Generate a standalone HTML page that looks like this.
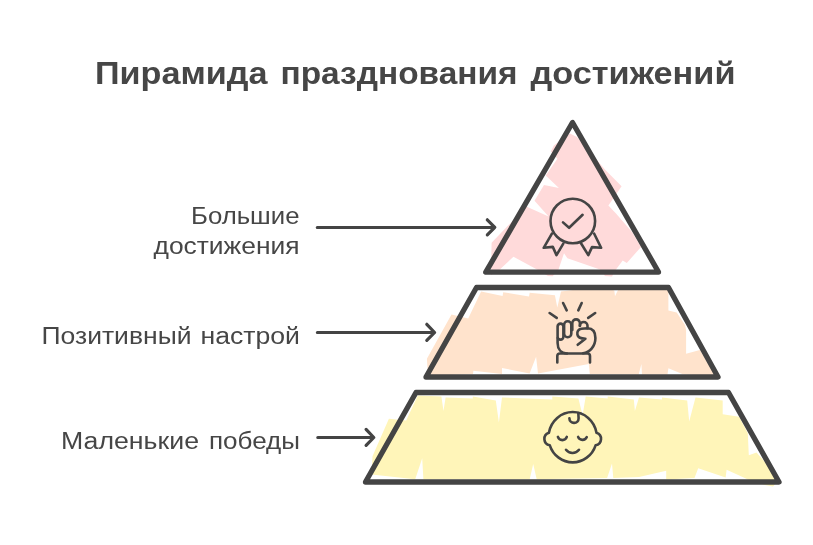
<!DOCTYPE html>
<html><head><meta charset="utf-8">
<style>
html,body{margin:0;padding:0;background:#fff;width:813px;height:545px;overflow:hidden}
svg{display:block;will-change:transform}
text{font-family:"Liberation Sans",sans-serif;fill:#464646}
.t{font-size:31px;font-weight:bold}
.l{font-size:23px}
</style></head><body>
<svg width="813" height="545" viewBox="0 0 813 545">
<g id="fills">
<polygon fill="#ffdada" points="569.9,133.5 577,137 605.4,170 621.6,186.2 608.4,205.4 616,213.5 632,232 641,247 626.8,263 622.7,260.4 615.2,270.5 612,276.5 605,276 600,269.6 567.4,258.3 564,253.2 558.5,269.6 552.6,276.3 548,276 537,269.5 513.5,256.7 499.8,269.5 491,275 491.6,242.8 526.3,206.5 548.6,216.4 534.5,200.7 544,185 558.9,188.1 545.7,175.6 557.4,158.8 550.8,151.4 553.8,145.6"/>
<polygon fill="#ffe3cc" points="481.1,291.6 502.6,295.9 503.2,292.2 529,296.5 529.7,292.8 554.9,295.3 557.3,307.6 561,291.5 589,288 604,288 614.3,290.4 615,296.3 619,288 668.4,289 668.4,310.5 676.7,312.4 685,325 686.1,330 686.1,353.8 699.9,349.9 714.7,374.5 718,377 682.3,374 668.4,368.3 667.5,374.5 642,374.5 641.4,364 638.7,374.5 589.8,374 588.8,364 538,373.5 536.1,356.8 529.6,373.5 502,368 502,374 473.4,370.7 473,374 428,376 426.9,358.7 451.5,314.4 468.2,318.4"/>
<polygon fill="#fff5b9" points="417.8,395.6 441.4,396.4 443.5,411 445.6,397.4 472.8,398.5 472.8,396.5 495.8,400.6 498.9,422.5 502,397.4 552.3,399.5 552.3,396.4 578.4,398.5 582.6,415.2 585.7,396.4 607.7,398.5 607.7,396.4 633.8,399.5 634.9,411 639,397.4 662,399.5 662,397.4 687.2,400.6 689.2,421.5 695.5,397.4 722.7,400.6 722.7,414.2 739.1,416.8 747.8,433.2 748.8,455.3 756.5,452.4 775.7,474.3 778,481 773,486.5 765,485 748,479.5 726.6,469.8 725.6,477.5 698.2,468.3 694.5,478.1 666.2,479.4 666.2,470.8 639.1,477 613.3,478.1 612,463.4 607.1,478.1 536.7,479.2 533.2,464 529.7,479.2 423.4,479.2 422.2,458.2 415.2,479.2 371.6,474.6 372.5,456.3 388.9,418.7 406.2,420.6"/>
</g>
<g fill="none" stroke="#444" stroke-width="5.3" stroke-linejoin="round" stroke-linecap="round">
<path d="M572.5,122.5 L485.8,272.2 L658.5,272 Z"/>
<path d="M476.5,287.5 L668.5,287.5 L718,377 L426,377 Z"/>
<path d="M416,392.5 L728.5,392.5 L779,482 L365.5,482 Z"/>
</g>
<g fill="none" stroke="#444" stroke-width="3.2" stroke-linejoin="round" stroke-linecap="round">
<path d="M317.3,227.5 L494.8,227.3 M487.3,219.8 L494.8,227.3 L487.3,234.9"/>
<path d="M317.4,332.5 L434.6,332.5 M426.8,324.3 L434.6,332.5 L426.8,340.4"/>
<path d="M317.8,437.5 L373.8,437.5 M366.1,429.4 L373.8,437.5 L366.1,445.4"/>
</g>
<g fill="none" stroke="#444" stroke-width="2.6" stroke-linejoin="round" stroke-linecap="round">
<!-- award -->
<circle cx="572.8" cy="221" r="22.3"/>
<path d="M563,222.4 L569.1,227.8 L582.6,214.8"/>
<path d="M551.9,233.7 L543.7,247.8 L552.8,246.9 L556.5,255.1 L563.3,243.7"/>
<path d="M594.2,233.7 L601.1,247.8 L592,247.1 L588.3,255.1 L581,243.3"/>
<!-- fist -->
<path d="M549.6,313 L556.7,317.9 M563.1,303 L566.7,310.4 M581.7,303 L578.3,310.4 M595.2,313 L588.2,317.9"/>
<rect x="557.6" y="323.6" width="5.8" height="16" rx="2.9"/>
<rect x="564.1" y="321.3" width="7.2" height="15.9" rx="3.5"/>
<path d="M572.3,330 L572.3,323.2 A3.8,3.8 0 0 1 579.9,323.2 L579.9,326"/>
<path d="M579.9,325.8 A3.8,3.8 0 0 1 587.5,325.8 L587.5,328.3"/>
<path d="M557.6,338 L557.6,343 C557.6,349 561,353.3 567,353.5 M583,353.3 C590,352.5 595.4,346 595.4,338 C595.4,332 592.5,328.4 587.5,328.3 L581.5,328.8 C578.2,329.3 576.9,331.7 577.4,334.5 C577.8,337.3 580.8,338.6 585.4,338.7 L577.7,344.8"/>
<path d="M557.3,362.5 L557.3,356 Q557.3,353.5 560,353.5 L587.5,353.5 Q590,353.5 590,356 L590,362.5"/>
<!-- baby -->
<path d="M548.9,432.7 A24.2,25.2 0 0 1 596.5,432.7 A6.5,6.5 0 0 1 595.6,445.3 A24.2,25.2 0 0 1 549.8,445.3 A6.5,6.5 0 0 1 548.9,432.7 Z"/>
<path d="M578.3,413 L578.6,418.2 A4.6,4.6 0 0 1 569.4,418.4"/>
<path d="M557.9,436.9 A4.7,4.7 0 0 0 566.8,436.9 M578.1,436.9 A4.7,4.7 0 0 0 586.8,437.1 M566,449.8 A8.2,8.2 0 0 0 579,449.8"/>
</g>
<text class="t" x="95" y="83.7" textLength="172.5" lengthAdjust="spacingAndGlyphs">Пирамида</text>
<text class="t" x="280.5" y="83.7" textLength="237.0" lengthAdjust="spacingAndGlyphs">празднования</text>
<text class="t" x="530.5" y="83.7" textLength="205.0" lengthAdjust="spacingAndGlyphs">достижений</text>
<text class="l" x="191.0" y="223.9" textLength="108.5" lengthAdjust="spacingAndGlyphs">Большие</text>
<text class="l" x="153.5" y="253.5" textLength="146.0" lengthAdjust="spacingAndGlyphs">достижения</text>
<text class="l" x="41.5" y="344.2" textLength="150.0" lengthAdjust="spacingAndGlyphs">Позитивный</text>
<text class="l" x="200.5" y="344.2" textLength="99.5" lengthAdjust="spacingAndGlyphs">настрой</text>
<text class="l" x="61.0" y="449" textLength="138.0" lengthAdjust="spacingAndGlyphs">Маленькие</text>
<text class="l" x="209" y="449" textLength="91.0" lengthAdjust="spacingAndGlyphs">победы</text>
</svg>
</body></html>
